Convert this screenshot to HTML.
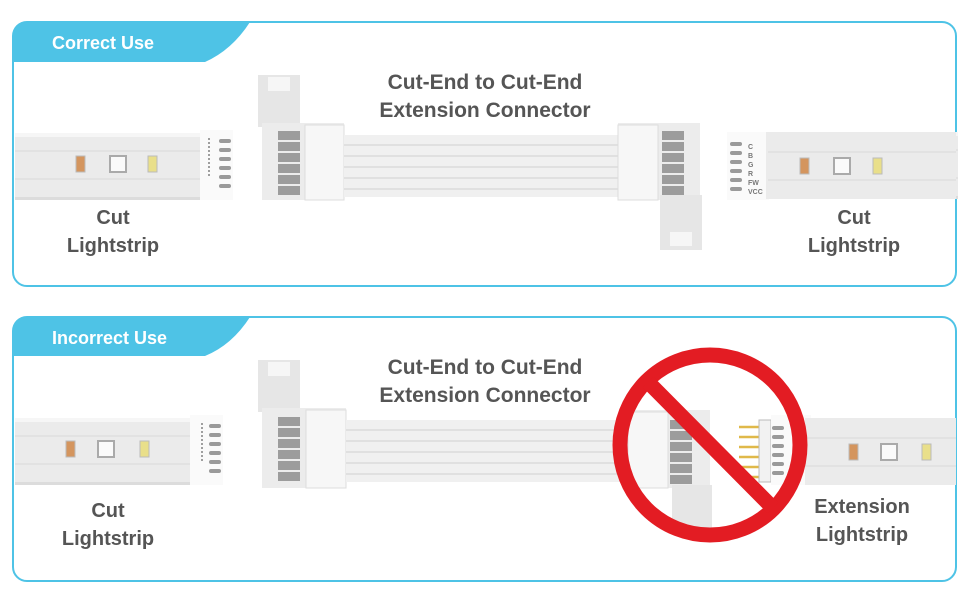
<!DOCTYPE html>
<html><head><meta charset="utf-8"><style>
body{margin:0;background:#fff;width:970px;height:600px;overflow:hidden}
svg{display:block}
text{font-family:"Liberation Sans",sans-serif;font-weight:bold}
</style></head><body>
<svg width="970" height="600" viewBox="0 0 970 600">
<defs>
<g id="strip">
  <rect x="0" y="0" width="190" height="67" fill="#ebebeb"/>
  <rect x="0" y="0" width="190" height="4" fill="#f6f6f6"/>
  <line x1="0" y1="18" x2="190" y2="18" stroke="#d8d8d8"/>
  <line x1="0" y1="46" x2="190" y2="46" stroke="#d8d8d8"/>
  <rect x="0" y="64" width="190" height="3" fill="#dcdcdc"/>
</g>
<g id="pads">
  <rect x="0" y="0" width="12" height="4" rx="2" fill="#9a9a9a"/>
  <rect x="0" y="9" width="12" height="4" rx="2" fill="#9a9a9a"/>
  <rect x="0" y="18" width="12" height="4" rx="2" fill="#9a9a9a"/>
  <rect x="0" y="27" width="12" height="4" rx="2" fill="#9a9a9a"/>
  <rect x="0" y="36" width="12" height="4" rx="2" fill="#9a9a9a"/>
  <rect x="0" y="45" width="12" height="4" rx="2" fill="#9a9a9a"/>
</g>
<g id="clips">
  <rect x="0" y="0" width="22" height="9" fill="#9c9c9c"/>
  <rect x="0" y="11" width="22" height="9" fill="#9c9c9c"/>
  <rect x="0" y="22" width="22" height="9" fill="#9c9c9c"/>
  <rect x="0" y="33" width="22" height="9" fill="#9c9c9c"/>
  <rect x="0" y="44" width="22" height="9" fill="#9c9c9c"/>
  <rect x="0" y="55" width="22" height="9" fill="#9c9c9c"/>
</g>
<g id="wires">
  <rect x="0" y="0" width="280" height="62" fill="#f0f0f0"/>
  <g stroke="#cfcfcf" stroke-width="1">
  <line x1="0" y1="10" x2="280" y2="10"/><line x1="0" y1="21" x2="280" y2="21"/>
  <line x1="0" y1="32" x2="280" y2="32"/><line x1="0" y1="43" x2="280" y2="43"/>
  <line x1="0" y1="54" x2="280" y2="54"/></g>
</g>
</defs>

<!-- Panel 1 -->
<rect x="13" y="22" width="943" height="264" rx="14" fill="#fff" stroke="#4ec3e6" stroke-width="2"/>
<path d="M13 36 Q13 22 27 22 L250 22 Q232 50 205 62 L13 62 Z" fill="#4ec3e6"/>
<text x="52" y="49" font-size="18" fill="#fff">Correct Use</text>
<text x="485" y="89" font-size="21" fill="#555" text-anchor="middle">Cut-End to Cut-End</text>
<text x="485" y="117" font-size="21" fill="#555" text-anchor="middle">Extension Connector</text>

<use href="#strip" x="15" y="133"/>
<rect x="76" y="156" width="9" height="16" fill="#d4955e" stroke="#bbb"/>
<rect x="110" y="156" width="16" height="16" fill="#fafafa" stroke="#aaa" stroke-width="2"/>
<rect x="148" y="156" width="9" height="16" fill="#e9df8a" stroke="#bbb"/>
<rect x="200" y="130" width="33" height="70" fill="#fafafa"/>
<use href="#pads" x="219" y="139"/>
<line x1="209" y1="138" x2="209" y2="178" stroke="#444" stroke-dasharray="2 2"/>

<rect x="258" y="75" width="42" height="52" fill="#e6e6e6"/>
<rect x="268" y="77" width="22" height="14" fill="#f6f6f6"/>
<rect x="262" y="123" width="82" height="77" fill="#ececec"/>
<rect x="305" y="125" width="39" height="75" fill="#f7f7f7" stroke="#ddd"/>
<use href="#clips" x="278" y="131"/>
<use href="#wires" x="344" y="135"/>
<rect x="618" y="123" width="82" height="77" fill="#ececec"/>
<rect x="618" y="125" width="40" height="75" fill="#f7f7f7" stroke="#ddd"/>
<use href="#clips" x="662" y="131"/>
<rect x="660" y="195" width="42" height="55" fill="#e6e6e6"/>
<rect x="670" y="232" width="22" height="14" fill="#f6f6f6"/>

<rect x="727" y="132" width="42" height="68" fill="#fafafa"/>
<use href="#pads" x="730" y="142"/>
<g font-size="7" fill="#777" font-weight="normal"><text x="748" y="149">C</text><text x="748" y="158">B</text><text x="748" y="167">G</text><text x="748" y="176">R</text><text x="748" y="185">FW</text><text x="748" y="194">VCC</text></g>
<use href="#strip" x="768" y="132"/>
<rect x="766" y="132" width="190" height="67" fill="#ebebeb"/>
<line x1="768" y1="152" x2="956" y2="152" stroke="#d8d8d8"/><line x1="768" y1="180" x2="956" y2="180" stroke="#d8d8d8"/>
<rect x="800" y="158" width="9" height="16" fill="#d4955e" stroke="#bbb"/>
<rect x="834" y="158" width="16" height="16" fill="#fafafa" stroke="#aaa" stroke-width="2"/>
<rect x="873" y="158" width="9" height="16" fill="#e9df8a" stroke="#bbb"/>

<text x="113" y="224" font-size="20" fill="#555" text-anchor="middle">Cut</text>
<text x="113" y="252" font-size="20" fill="#555" text-anchor="middle">Lightstrip</text>
<text x="854" y="224" font-size="20" fill="#555" text-anchor="middle">Cut</text>
<text x="854" y="252" font-size="20" fill="#555" text-anchor="middle">Lightstrip</text>

<!-- Panel 2 -->
<rect x="13" y="317" width="943" height="264" rx="14" fill="#fff" stroke="#4ec3e6" stroke-width="2"/>
<path d="M13 331 Q13 317 27 317 L250 317 Q232 345 205 356 L13 356 Z" fill="#4ec3e6"/>
<text x="52" y="344" font-size="18" fill="#fff">Incorrect Use</text>
<text x="485" y="374" font-size="21" fill="#555" text-anchor="middle">Cut-End to Cut-End</text>
<text x="485" y="402" font-size="21" fill="#555" text-anchor="middle">Extension Connector</text>

<use href="#strip" x="15" y="418"/>
<rect x="66" y="441" width="9" height="16" fill="#d4955e" stroke="#bbb"/>
<rect x="98" y="441" width="16" height="16" fill="#fafafa" stroke="#aaa" stroke-width="2"/>
<rect x="140" y="441" width="9" height="16" fill="#e9df8a" stroke="#bbb"/>
<rect x="190" y="415" width="33" height="70" fill="#fafafa"/>
<use href="#pads" x="209" y="424"/>
<line x1="202" y1="423" x2="202" y2="463" stroke="#444" stroke-dasharray="2 2"/>

<rect x="258" y="360" width="42" height="52" fill="#e6e6e6"/>
<rect x="268" y="362" width="22" height="14" fill="#f6f6f6"/>
<rect x="262" y="408" width="84" height="80" fill="#ececec"/>
<rect x="306" y="410" width="40" height="78" fill="#f7f7f7" stroke="#ddd"/>
<use href="#clips" x="278" y="417"/>
<use href="#wires" x="346" y="420"/>
<rect x="628" y="410" width="82" height="78" fill="#ececec"/>
<rect x="628" y="412" width="40" height="76" fill="#f7f7f7" stroke="#ddd"/>
<use href="#clips" x="670" y="420"/>
<rect x="672" y="485" width="40" height="45" fill="#e6e6e6"/>

<g stroke="#e0b94a" stroke-width="2.5">
<line x1="739" y1="427" x2="760" y2="427"/><line x1="739" y1="437" x2="760" y2="437"/>
<line x1="739" y1="447" x2="760" y2="447"/><line x1="739" y1="457" x2="760" y2="457"/>
<line x1="739" y1="467" x2="760" y2="467"/><line x1="739" y1="477" x2="760" y2="477"/></g>
<rect x="759" y="420" width="12" height="62" fill="#f2f2f2" stroke="#bbb"/>
<rect x="771" y="415" width="40" height="70" fill="#fafafa"/>
<use href="#pads" x="772" y="426"/>
<rect x="805" y="418" width="151" height="67" fill="#ebebeb"/>
<line x1="805" y1="438" x2="956" y2="438" stroke="#d8d8d8"/><line x1="805" y1="466" x2="956" y2="466" stroke="#d8d8d8"/>
<rect x="849" y="444" width="9" height="16" fill="#d4955e" stroke="#bbb"/>
<rect x="881" y="444" width="16" height="16" fill="#fafafa" stroke="#aaa" stroke-width="2"/>
<rect x="922" y="444" width="9" height="16" fill="#e9df8a" stroke="#bbb"/>

<circle cx="710" cy="445" r="90" fill="none" stroke="#e31c23" stroke-width="15"/>
<line x1="648" y1="382" x2="773" y2="508" stroke="#e31c23" stroke-width="15"/>

<text x="108" y="517" font-size="20" fill="#555" text-anchor="middle">Cut</text>
<text x="108" y="545" font-size="20" fill="#555" text-anchor="middle">Lightstrip</text>
<text x="862" y="513" font-size="20" fill="#555" text-anchor="middle">Extension</text>
<text x="862" y="541" font-size="20" fill="#555" text-anchor="middle">Lightstrip</text>
</svg>
</body></html>
